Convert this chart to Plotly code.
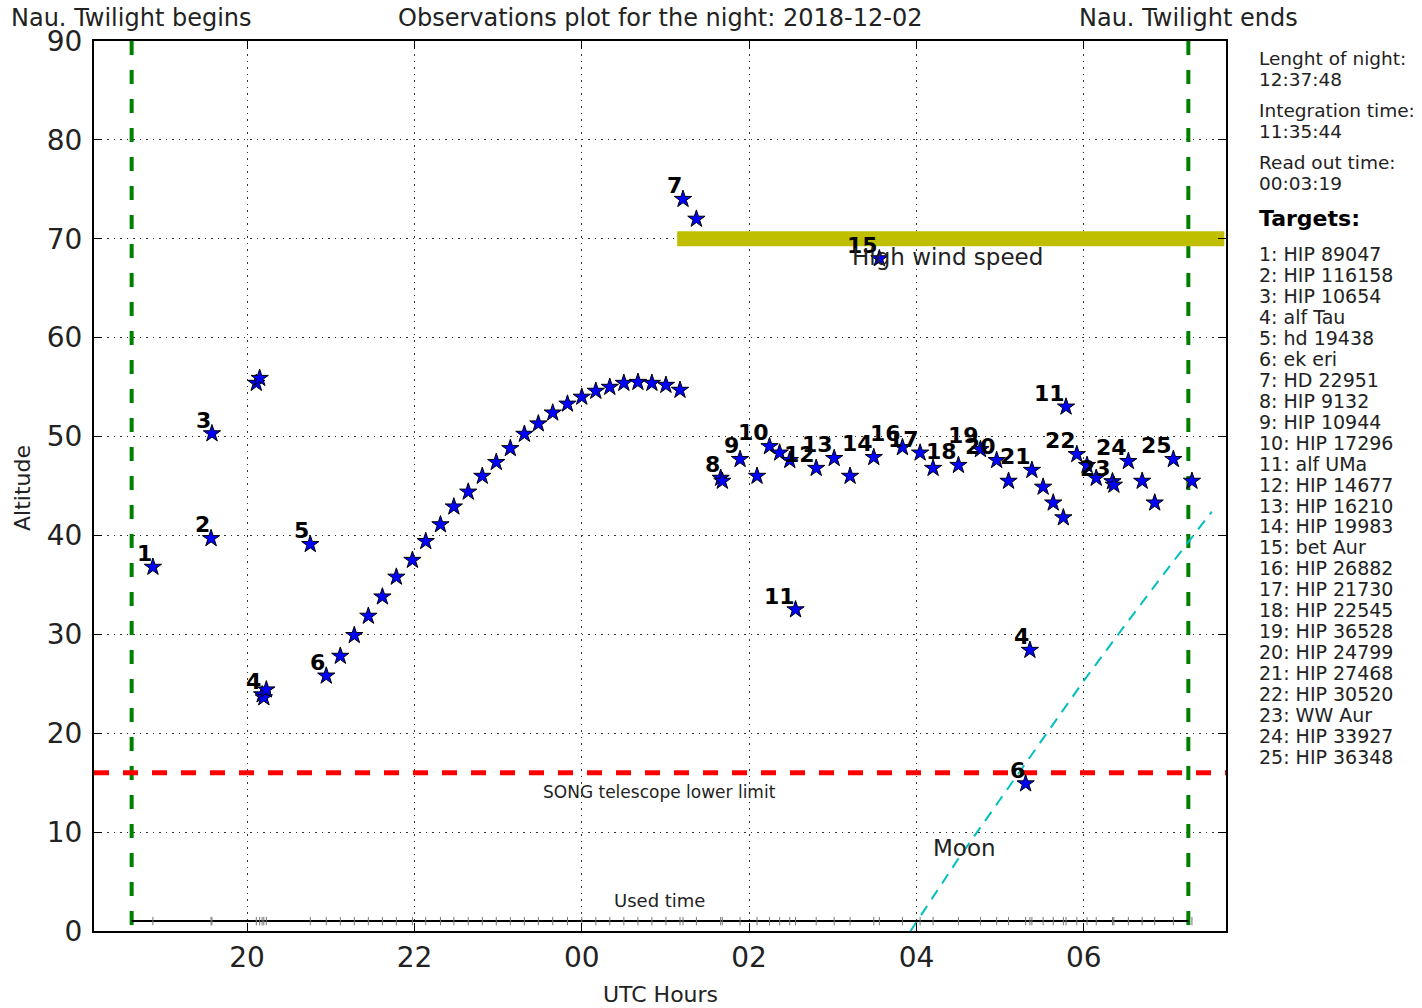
import plotly.graph_objects as go

# ---------------- data ----------------
night_date = "2018-12-02"
twilight_begin = 18.62
twilight_end = 31.25
x_range = [18.17, 31.70]
y_range = [0, 90]
lower_limit_alt = 16
wind_alt = 70
wind_start = 25.14
wind_end = 31.68
used_time_alt = 1.0

obs_hours = [18.874, 19.569, 19.58, 20.11, 20.15, 20.18, 20.20, 20.23, 20.755,
             20.946, 21.114, 21.281, 21.449, 21.617, 21.784, 21.976, 22.135, 22.311,
             22.471, 22.643, 22.811, 22.978, 23.146, 23.314, 23.481, 23.653, 23.829,
             24.0, 24.168, 24.335, 24.503, 24.671, 24.838, 25.006, 25.174,
             25.21, 25.37, 25.66, 25.68, 25.892, 26.095, 26.244, 26.365, 26.486,
             26.555, 26.802, 27.017, 27.207, 27.490, 27.557, 27.833, 28.044, 28.199,
             28.502, 28.765, 28.959, 29.101, 29.305, 29.356, 29.380, 29.514, 29.635,
             29.756, 29.788, 29.917, 30.039, 30.149, 30.343, 30.36, 30.533, 30.698,
             30.848, 31.071, 31.293]
obs_alt = [36.8, 39.7, 50.3, 55.4, 55.9, 23.9, 23.6, 24.4, 39.1,
           25.8, 27.8, 29.9, 31.85, 33.8, 35.8, 37.5, 39.4, 41.1,
           42.9, 44.4, 46.0, 47.4, 48.8, 50.25, 51.3, 52.4, 53.3,
           54.0, 54.6, 55.0, 55.4, 55.5, 55.4, 55.2, 54.7,
           74.0, 72.0, 45.8, 45.5, 47.7, 46.0, 49.0, 48.35, 47.6,
           32.5, 46.8, 47.8, 46.0, 47.9, 68.0, 48.9, 48.35, 46.8,
           47.1, 48.7, 47.6, 45.5, 14.9, 28.4, 46.6, 44.9, 43.3,
           41.8, 53.0, 48.2, 47.1, 45.8, 45.45, 45.1, 47.5, 45.5,
           43.3, 47.7, 45.5]
obs_target = [1, 2, 3, 3, 3, 4, 4, 4, 5,
              6, 6, 6, 6, 6, 6, 6, 6, 6,
              6, 6, 6, 6, 6, 6, 6, 6, 6,
              6, 6, 6, 6, 6, 6, 6, 6,
              7, 7, 8, 8, 9, 9, 10, 10, 10,
              11, 12, 13, 13, 14, 15, 16, 17, 17,
              18, 19, 20, 20, 6, 4, 21, 21, 21,
              21, 11, 22, 22, 22, 23, 23, 24, 24,
              24, 25, 25]

moon_hours = [27.93, 28.5, 29.0, 29.5, 30.0, 30.5, 31.0, 31.53]
moon_alt = [0.0, 7.3, 13.3, 19.3, 25.3, 31.0, 36.6, 42.4]

x_tick_vals = [20, 22, 24, 26, 28, 30]
x_tick_text = ["20", "22", "00", "02", "04", "06"]
y_tick_vals = [0, 10, 20, 30, 40, 50, 60, 70, 80, 90]

target_names = ["HIP 89047", "HIP 116158", "HIP 10654", "alf Tau", "hd 19438",
                "ek eri", "HD 22951", "HIP 9132", "HIP 10944", "HIP 17296",
                "alf UMa", "HIP 14677", "HIP 16210", "HIP 19983", "bet Aur",
                "HIP 26882", "HIP 21730", "HIP 22545", "HIP 36528", "HIP 24799",
                "HIP 27468", "HIP 30520", "WW Aur", "HIP 33927", "HIP 36348"]

stats_labels = ["Lenght of night:", "Integration time:", "Read out time:"]
stats_values = ["12:37:48", "11:35:44", "00:03:19"]

FONT = "DejaVu Sans"
TXT = "#222222"

# --------------- layout geometry (pixels) ---------------
W, H = 1422, 1008
ML, MR, MT, MB = 94, 196, 41, 77
PW, PH = W - ML - MR, H - MT - MB


def py_to_paper(py):
    return (H - MB - py) / PH


def px_to_paper(px):
    return (px - ML) / PW


fig = go.Figure()

# nautical twilight vertical lines
for xv in (twilight_begin, twilight_end):
    fig.add_trace(go.Scatter(x=[xv, xv], y=[y_range[1], y_range[0]], mode="lines",
                             line=dict(color="#008000", width=4, dash="14px,15px"),
                             hoverinfo="skip", showlegend=False))

# lower limit line
fig.add_trace(go.Scatter(x=x_range, y=[lower_limit_alt, lower_limit_alt], mode="lines",
                         line=dict(color="#ff0000", width=5, dash="15px,14px"),
                         hoverinfo="skip", showlegend=False))

# high wind speed band
fig.add_trace(go.Scatter(x=[wind_start, wind_end], y=[wind_alt, wind_alt], mode="lines",
                         line=dict(color="#bfbf00", width=15),
                         hoverinfo="skip", showlegend=False))

# moon altitude
fig.add_trace(go.Scatter(x=moon_hours, y=moon_alt, mode="lines",
                         line=dict(color="#00bfbf", width=2, dash="11px,8px"),
                         hoverinfo="skip", showlegend=False))

# used time line
fig.add_trace(go.Scatter(x=[twilight_begin, twilight_end], y=[used_time_alt, used_time_alt],
                         mode="lines", line=dict(color="black", width=2),
                         hoverinfo="skip", showlegend=False))
fig.add_trace(go.Scatter(x=obs_hours, y=[used_time_alt] * len(obs_hours), mode="markers",
                         marker=dict(symbol="line-ns", size=6,
                                     line=dict(color="#777777", width=1)),
                         hoverinfo="skip", showlegend=False))

# observations
fig.add_trace(go.Scatter(x=obs_hours, y=obs_alt, mode="markers",
                         marker=dict(symbol="star", size=13, color="#0000ff",
                                     line=dict(color="black", width=1)),
                         text=[f"{t}: {target_names[t-1]}" for t in obs_target],
                         hoverinfo="text", showlegend=False))

annotations = []
# target number labels at the start of each visit
prev = None
for hx, alt, t in zip(obs_hours, obs_alt, obs_target):
    if t != prev:
        annotations.append(dict(x=hx, y=alt, xref="x", yref="y", text=str(t),
                                showarrow=False, xanchor="right", yanchor="bottom",
                                xshift=1, yshift=-1,
                                font=dict(family=FONT, size=22, color="black", weight="bold")))
    prev = t

# in-plot texts
inplot = [
    dict(x=24.93, y=14.05, text="SONG telescope lower limit", font=dict(size=17)),
    dict(x=24.93, y=3.13, text="Used time", font=dict(size=18)),
    dict(x=28.575, y=8.4, text="Moon", font=dict(size=23)),
    dict(x=28.37, y=68.15, text="High wind speed", font=dict(size=23)),
]
for a in inplot:
    a.update(xref="x", yref="y", showarrow=False, xanchor="center", yanchor="middle")
    a["font"].update(family=FONT, color=TXT)
annotations += inplot

# top texts
top_y = py_to_paper(18)
for xv, xr, txt in [(twilight_begin, "x", "Nau. Twilight begins"),
                    (twilight_end, "x", "Nau. Twilight ends"),
                    (0.5, "paper", f"Observations plot for the night: {night_date}")]:
    annotations.append(dict(x=xv, xref=xr, y=top_y, yref="paper", text=txt,
                            showarrow=False, xanchor="center", yanchor="middle",
                            font=dict(family=FONT, size=24, color=TXT)))

# axis titles
annotations.append(dict(x=0.5, xref="paper", y=py_to_paper(995), yref="paper",
                        text="UTC Hours", showarrow=False, xanchor="center", yanchor="middle",
                        font=dict(family=FONT, size=22, color=TXT)))
annotations.append(dict(x=px_to_paper(22), xref="paper", y=py_to_paper(488), yref="paper",
                        text="Altitude", showarrow=False, textangle=-90,
                        xanchor="center", yanchor="middle",
                        font=dict(family=FONT, size=22, color=TXT)))

# right-side info panel
rx = px_to_paper(1257)
info_lines = []
for lab, val in zip(stats_labels, stats_values):
    info_lines.append(lab)
    info_lines.append(val)
info_py = [58, 79, 110, 131, 162, 183]
for txt, pyy in zip(info_lines, info_py):
    annotations.append(dict(x=rx, xref="paper", y=py_to_paper(pyy), yref="paper", text=txt,
                            showarrow=False, xanchor="left", yanchor="middle",
                            font=dict(family=FONT, size=18.5, color=TXT)))
annotations.append(dict(x=rx, xref="paper", y=py_to_paper(218), yref="paper", text="Targets:",
                        showarrow=False, xanchor="left", yanchor="middle",
                        font=dict(family=FONT, size=22, color="black", weight="bold")))
for i, name in enumerate(target_names):
    annotations.append(dict(x=rx, xref="paper", y=py_to_paper(254 + 20.96 * i), yref="paper",
                            text=f"{i+1}: {name}", showarrow=False, xanchor="left",
                            yanchor="middle",
                            font=dict(family=FONT, size=19, color=TXT)))

axis_common = dict(showline=True, linecolor="black", linewidth=2, mirror="allticks",
                   ticks="inside", ticklen=8, tickwidth=1, tickcolor="black",
                   showgrid=True, gridcolor="#333333", gridwidth=1, griddash="1.5px,5px",
                   zeroline=False, automargin=False,
                   tickfont=dict(family=FONT, size=28, color=TXT))

fig.update_layout(
    width=W, height=H,
    margin=dict(l=ML, r=MR, t=MT, b=MB, autoexpand=False),
    paper_bgcolor="white", plot_bgcolor="white",
    font=dict(family=FONT, color=TXT),
    xaxis=dict(range=x_range, tickvals=x_tick_vals, ticktext=x_tick_text,
               ticklabelstandoff=0, **axis_common),
    yaxis=dict(range=y_range, tickvals=y_tick_vals,
               ticklabelstandoff=4, **axis_common),
    annotations=annotations,
)

fig.write_html("out.html", config={"displayModeBar": False},
               post_script="document.body.style.margin='0';document.body.style.padding='0';")
